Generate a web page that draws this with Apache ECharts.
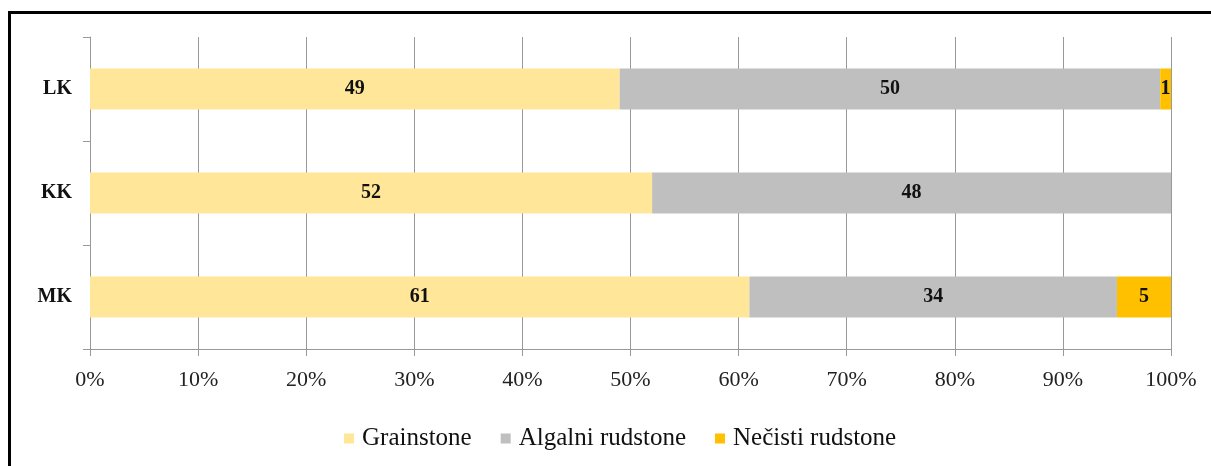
<!DOCTYPE html>
<html>
<head>
<meta charset="utf-8">
<script src="https://cdn.jsdelivr.net/npm/echarts@6/dist/echarts.min.js"></script>
<style>
  html, body { margin: 0; padding: 0; background: #fff; }
  #chart { width: 1211px; height: 466px; }
</style>
</head>
<body>
<div id="chart"></div>
<script>
// Sites (top to bottom) and facies shares in percent
const sites = ['LK', 'KK', 'MK'];
const grainstone = [49, 52, 61];
const algalniRudstone = [50, 48, 34];
const necistiRudstone = [1, 0, 5];
const tickValues = [0, 10, 20, 30, 40, 50, 60, 70, 80, 90, 100];

const serif = '"Liberation Serif", "DejaVu Serif", serif';

function makeSeries(name, values, color) {
  return {
    name: name,
    type: 'bar',
    stack: 'total',
    barWidth: 41,
    data: values,
    itemStyle: { color: color },
    label: {
      show: true,
      position: 'inside',
      fontFamily: serif,
      fontWeight: 'bold',
      fontSize: 20,
      color: '#111',
      formatter: p => (p.value ? String(p.value) : '')
    },
    emphasis: { disabled: true }
  };
}

const chart = echarts.init(document.getElementById('chart'), null, { renderer: 'canvas' });
chart.setOption({
  animation: false,
  backgroundColor: '#fff',
  graphic: [{
    type: 'rect',
    shape: { x: 9.5, y: 12.5, width: 1400, height: 600 },
    style: { fill: 'none', stroke: '#000', lineWidth: 3 },
    z: 100
  }],
  grid: { left: 90, right: 40, top: 37, bottom: 117, containLabel: false },
  legend: {
    left: 339,
    top: 421,
    icon: 'rect',
    itemWidth: 10,
    itemHeight: 10,
    itemGap: 29,
    textStyle: { fontFamily: serif, fontSize: 25, color: '#111', padding: [0, 0, 0, 3] },
    data: ['Grainstone', 'Algalni rudstone', 'Nečisti rudstone']
  },
  xAxis: {
    type: 'value',
    min: tickValues[0],
    max: tickValues[tickValues.length - 1],
    interval: tickValues[1] - tickValues[0],
    axisLine: { show: true, lineStyle: { color: '#999', width: 1 } },
    axisTick: { show: true, length: 7, lineStyle: { color: '#999' } },
    splitLine: { show: true, lineStyle: { color: '#999', width: 1 } },
    axisLabel: {
      margin: 20,
      fontFamily: serif,
      fontSize: 22,
      color: '#222',
      formatter: v => v + '%'
    }
  },
  yAxis: {
    type: 'category',
    inverse: true,
    data: sites,
    axisLine: { show: true, lineStyle: { color: '#999', width: 1 } },
    axisTick: { show: true, length: 7, alignWithLabel: false, lineStyle: { color: '#999' } },
    axisLabel: {
      margin: 18,
      fontFamily: serif,
      fontWeight: 'bold',
      fontSize: 20,
      color: '#111'
    }
  },
  series: [
    makeSeries('Grainstone', grainstone, '#FFE699'),
    makeSeries('Algalni rudstone', algalniRudstone, '#BFBFBF'),
    makeSeries('Nečisti rudstone', necistiRudstone, '#FFC000')
  ]
});
</script>
</body>
</html>
